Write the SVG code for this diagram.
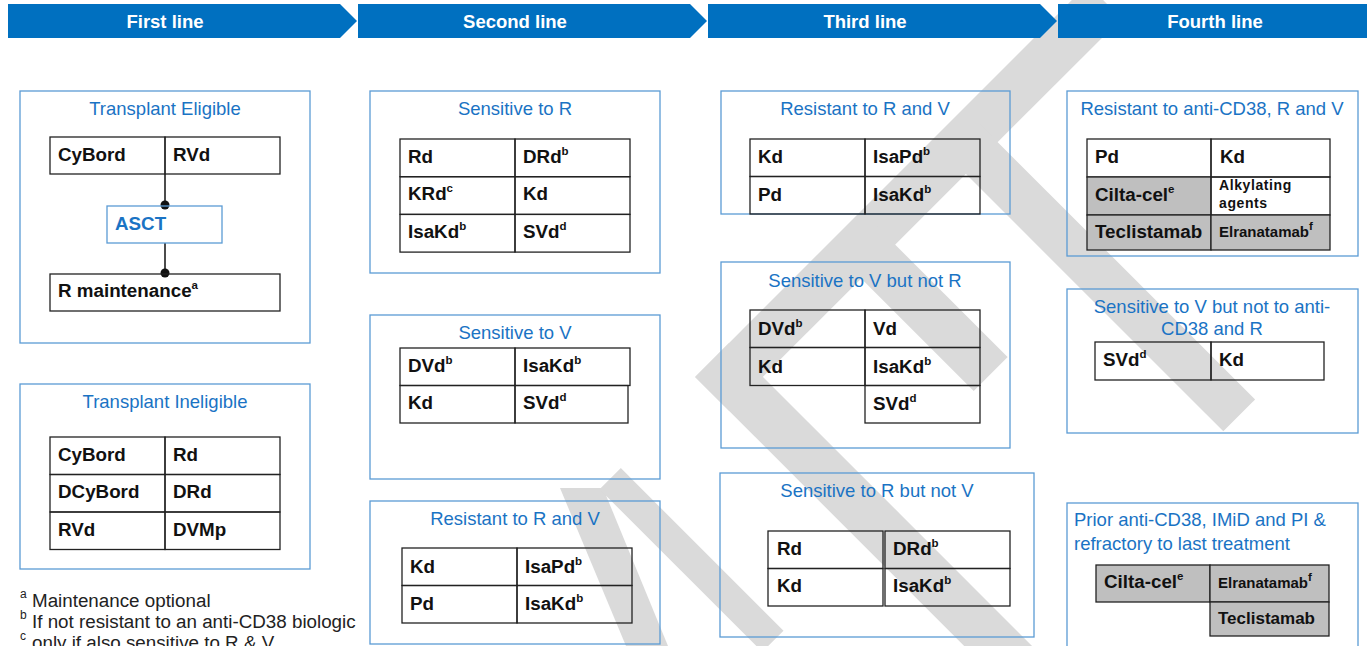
<svg xmlns="http://www.w3.org/2000/svg" width="1367" height="646" viewBox="0 0 1367 646">
<style>
.wm{fill:#dadada}
.hdr{fill:#0070c0}
.hdrt{font-family:'Liberation Sans',Arial,sans-serif;font-weight:bold;font-size:18.5px;fill:#fff;text-anchor:middle}
.box{fill:none;stroke:#5b9bd5;stroke-width:1.3}
.ttl{font-family:'Liberation Sans',Arial,sans-serif;font-size:18.5px;fill:#1a73c4;text-anchor:middle}
.ttll{font-family:'Liberation Sans',Arial,sans-serif;font-size:18.5px;fill:#1a73c4}
.cell{fill:none;stroke:#222;stroke-width:1.3}
.gcell{fill:#bfbfbf;stroke:#222;stroke-width:1.3}
.t{font-family:'Liberation Sans',Arial,sans-serif;font-weight:bold;font-size:18.8px;fill:#111}
.ts{font-family:'Liberation Sans',Arial,sans-serif;font-weight:bold;font-size:15px;fill:#111}
.tk{font-family:'Liberation Sans',Arial,sans-serif;font-weight:bold;font-size:14px;fill:#111;letter-spacing:0.6px}
.sup{font-size:11.5px}
.fn{font-family:'Liberation Sans',Arial,sans-serif;font-size:18.8px;fill:#222}
.fns{font-family:'Liberation Sans',Arial,sans-serif;font-size:12px;fill:#222}
.asct{font-family:'Liberation Sans',Arial,sans-serif;font-weight:bold;font-size:18.8px;fill:#1a73c4}
.conn{stroke:#111;stroke-width:1.5;fill:none}
</style>
<rect width="1367" height="646" fill="#fff"/>
<g id="watermark">
<polygon class="wm" points="1087.5,-15.6 1121.5,18.4 729,410.8 695.1,376.9"/>
<polygon class="wm" points="695.1,376.9 729,342.9 1112.3,726.2 1078.3,760.1"/>
<polygon class="wm" points="876.8,226.3 1007.6,357.1 973.7,391 842.9,260.2"/>
<polygon class="wm" points="979.3,123.7 1255.1,399.5 1223.3,431.3 947.5,155.6"/>
<polygon class="wm" points="560,488 603,488 668,646 626,646"/>
<polygon class="wm" points="620.8,468.1 783.5,630.7 762.3,651.9 599.6,489.3"/>
</g>
<g id="headers">
<polygon class="hdr" points="8,4 340,4 357,21 340,38 8,38"/>
<text class="hdrt" x="165" y="28">First line</text>
<polygon class="hdr" points="358,4 690,4 707,21 690,38 358,38"/>
<text class="hdrt" x="515" y="28">Second line</text>
<polygon class="hdr" points="708,4 1040,4 1057,21 1040,38 708,38"/>
<text class="hdrt" x="865" y="28">Third line</text>
<polygon class="hdr" points="1058,4 1367,4 1367,38 1058,38"/>
<text class="hdrt" x="1215" y="28">Fourth line</text>
</g>
<g id="connectors">
<line class="conn" x1="165" y1="174" x2="165" y2="205"/>
<circle cx="165" cy="205" r="4.5" fill="#111"/>
<line class="conn" x1="165" y1="243" x2="165" y2="273"/>
<circle cx="165" cy="273" r="4.5" fill="#111"/>
</g>
<g id="transplant-eligible">
<rect class="box" x="20" y="91" width="290" height="252"/>
<text class="ttl" x="165" y="115">Transplant Eligible</text>
<rect class="cell" x="50" y="137" width="115" height="37"/>
<rect class="cell" x="165" y="137" width="115" height="37"/>
<text class="t" x="58" y="161">CyBord</text>
<text class="t" x="173" y="161">RVd</text>
</g>
<g id="asct">
<rect class="box" x="107" y="206" width="115" height="37"/>
<text class="asct" x="115" y="230">ASCT</text>
</g>
<g id="r-maintenance">
<rect class="cell" x="50" y="274" width="230" height="37"/>
<text class="t" x="58" y="297">R maintenance<tspan class="sup" dy="-8">a</tspan></text>
</g>
<g id="transplant-ineligible">
<rect class="box" x="20" y="384" width="290" height="185"/>
<text class="ttl" x="165" y="408">Transplant Ineligible</text>
<rect class="cell" x="50" y="437" width="115" height="37.5"/>
<rect class="cell" x="165" y="437" width="115" height="37.5"/>
<rect class="cell" x="50" y="474.5" width="115" height="37.5"/>
<rect class="cell" x="165" y="474.5" width="115" height="37.5"/>
<rect class="cell" x="50" y="512" width="115" height="37.5"/>
<rect class="cell" x="165" y="512" width="115" height="37.5"/>
<text class="t" x="58" y="461">CyBord</text>
<text class="t" x="173" y="461">Rd</text>
<text class="t" x="58" y="498">DCyBord</text>
<text class="t" x="173" y="498">DRd</text>
<text class="t" x="58" y="536">RVd</text>
<text class="t" x="173" y="536">DVMp</text>
</g>
<g id="footnotes">
<text class="fns" x="20" y="598">a</text>
<text class="fn" x="32" y="607">Maintenance optional</text>
<text class="fns" x="20" y="619">b</text>
<text class="fn" x="32" y="628">If not resistant to an anti-CD38 biologic</text>
<text class="fns" x="20" y="640">c</text>
<text class="fn" x="32" y="649">only if also sensitive to R &amp; V</text>
</g>
<g id="sensitive-to-r">
<rect class="box" x="370" y="91" width="290" height="182"/>
<text class="ttl" x="515" y="115">Sensitive to R</text>
<rect class="cell" x="400" y="139" width="115" height="37.7"/>
<rect class="cell" x="515" y="139" width="115" height="37.7"/>
<rect class="cell" x="400" y="176.7" width="115" height="37.7"/>
<rect class="cell" x="515" y="176.7" width="115" height="37.7"/>
<rect class="cell" x="400" y="214.4" width="115" height="37.7"/>
<rect class="cell" x="515" y="214.4" width="115" height="37.7"/>
<text class="t" x="408" y="163">Rd</text>
<text class="t" x="523" y="163">DRd<tspan class="sup" dy="-8">b</tspan></text>
<text class="t" x="408" y="200">KRd<tspan class="sup" dy="-8">c</tspan></text>
<text class="t" x="523" y="200">Kd</text>
<text class="t" x="408" y="238">IsaKd<tspan class="sup" dy="-8">b</tspan></text>
<text class="t" x="523" y="238">SVd<tspan class="sup" dy="-8">d</tspan></text>
</g>
<g id="sensitive-to-v">
<rect class="box" x="370" y="315" width="290" height="164"/>
<text class="ttl" x="515" y="339">Sensitive to V</text>
<rect class="cell" x="400" y="348" width="115" height="37.5"/>
<rect class="cell" x="515" y="348" width="115" height="37.5"/>
<rect class="cell" x="400" y="385.5" width="115" height="37.5"/>
<rect class="cell" x="515" y="385.5" width="113" height="37.5"/>
<text class="t" x="408" y="372">DVd<tspan class="sup" dy="-8">b</tspan></text>
<text class="t" x="523" y="372">IsaKd<tspan class="sup" dy="-8">b</tspan></text>
<text class="t" x="408" y="409">Kd</text>
<text class="t" x="523" y="409">SVd<tspan class="sup" dy="-8">d</tspan></text>
</g>
<g id="resistant-r-v-2">
<rect class="box" x="370" y="501" width="290" height="143"/>
<text class="ttl" x="515" y="525">Resistant to R and V</text>
<rect class="cell" x="402" y="548" width="115" height="37.5"/>
<rect class="cell" x="517" y="548" width="115" height="37.5"/>
<rect class="cell" x="402" y="585.5" width="115" height="37.5"/>
<rect class="cell" x="517" y="585.5" width="115" height="37.5"/>
<text class="t" x="410" y="573">Kd</text>
<text class="t" x="525" y="573">IsaPd<tspan class="sup" dy="-8">b</tspan></text>
<text class="t" x="410" y="610">Pd</text>
<text class="t" x="525" y="610">IsaKd<tspan class="sup" dy="-8">b</tspan></text>
</g>
<g id="resistant-r-v-3">
<rect class="box" x="721" y="91" width="289" height="123"/>
<text class="ttl" x="865" y="115">Resistant to R and V</text>
<rect class="cell" x="750" y="139" width="115" height="37.5"/>
<rect class="cell" x="865" y="139" width="115" height="37.5"/>
<rect class="cell" x="750" y="176.5" width="115" height="37.5"/>
<rect class="cell" x="865" y="176.5" width="115" height="37.5"/>
<text class="t" x="758" y="163">Kd</text>
<text class="t" x="873" y="163">IsaPd<tspan class="sup" dy="-8">b</tspan></text>
<text class="t" x="758" y="201">Pd</text>
<text class="t" x="873" y="201">IsaKd<tspan class="sup" dy="-8">b</tspan></text>
</g>
<g id="sensitive-v-not-r">
<rect class="box" x="721" y="262" width="289" height="186"/>
<text class="ttl" x="865" y="287">Sensitive to V but not R</text>
<rect class="cell" x="750" y="310" width="115" height="37.5"/>
<rect class="cell" x="865" y="310" width="115" height="37.5"/>
<rect class="cell" x="750" y="347.5" width="115" height="38"/>
<rect class="cell" x="865" y="347.5" width="115" height="38"/>
<rect class="cell" x="865" y="385.5" width="115" height="37.5"/>
<text class="t" x="758" y="335">DVd<tspan class="sup" dy="-8">b</tspan></text>
<text class="t" x="873" y="335">Vd</text>
<text class="t" x="758" y="373">Kd</text>
<text class="t" x="873" y="373">IsaKd<tspan class="sup" dy="-8">b</tspan></text>
<text class="t" x="873" y="410">SVd<tspan class="sup" dy="-8">d</tspan></text>
</g>
<g id="sensitive-r-not-v">
<rect class="box" x="720" y="473" width="314" height="164"/>
<text class="ttl" x="877" y="497">Sensitive to R but not V</text>
<rect class="cell" x="768" y="531" width="115" height="37.5"/>
<rect class="cell" x="885" y="531" width="125" height="37.5"/>
<rect class="cell" x="768" y="568.5" width="115" height="37.5"/>
<rect class="cell" x="885" y="568.5" width="125" height="37.5"/>
<text class="t" x="777" y="555">Rd</text>
<text class="t" x="893" y="555">DRd<tspan class="sup" dy="-8">b</tspan></text>
<text class="t" x="777" y="592">Kd</text>
<text class="t" x="893" y="592">IsaKd<tspan class="sup" dy="-8">b</tspan></text>
</g>
<g id="resistant-cd38-r-v">
<rect class="box" x="1067" y="91" width="291" height="165"/>
<text class="ttl" x="1212" y="115">Resistant to anti-CD38, R and V</text>
<rect class="cell" x="1087" y="139" width="124" height="38"/>
<rect class="cell" x="1211" y="139" width="119" height="38"/>
<rect class="gcell" x="1087" y="177" width="124" height="38"/>
<rect class="cell" x="1211" y="177" width="119" height="38"/>
<rect class="gcell" x="1087" y="215" width="124" height="35"/>
<rect class="gcell" x="1211" y="215" width="119" height="35"/>
<text class="t" x="1095" y="163">Pd</text>
<text class="t" x="1220" y="163">Kd</text>
<text class="t" x="1095" y="201">Cilta-cel<tspan class="sup" dy="-8">e</tspan></text>
<text class="tk" x="1219" y="190">Alkylating</text>
<text class="tk" x="1219" y="208">agents</text>
<text class="t" x="1095" y="238">Teclistamab</text>
<text class="ts" x="1219" y="237">Elranatamab<tspan class="sup" dy="-7">f</tspan></text>
</g>
<g id="sensitive-v-not-cd38-r">
<rect class="box" x="1067" y="289" width="291" height="144"/>
<text class="ttl" x="1212" y="313">Sensitive to V but not to anti-</text>
<text class="ttl" x="1212" y="335">CD38 and R</text>
<rect class="cell" x="1095" y="342" width="116" height="38"/>
<rect class="cell" x="1211" y="342" width="113" height="38"/>
<text class="t" x="1103" y="366">SVd<tspan class="sup" dy="-8">d</tspan></text>
<text class="t" x="1219" y="366">Kd</text>
</g>
<g id="prior-refractory">
<rect class="box" x="1067" y="503" width="291" height="160"/>
<text class="ttll" x="1074" y="526">Prior anti-CD38, IMiD and PI &amp;</text>
<text class="ttll" x="1074" y="550">refractory to last treatment</text>
<rect class="gcell" x="1096" y="565" width="114" height="37"/>
<rect class="gcell" x="1210" y="565" width="119" height="37"/>
<rect class="gcell" x="1210" y="602" width="119" height="34"/>
<text class="t" x="1104" y="588">Cilta-cel<tspan class="sup" dy="-8">e</tspan></text>
<text class="ts" x="1218" y="588">Elranatamab<tspan class="sup" dy="-7">f</tspan></text>
<text class="t" x="1218" y="624" style="font-size:17px">Teclistamab</text>
</g>
</svg>
